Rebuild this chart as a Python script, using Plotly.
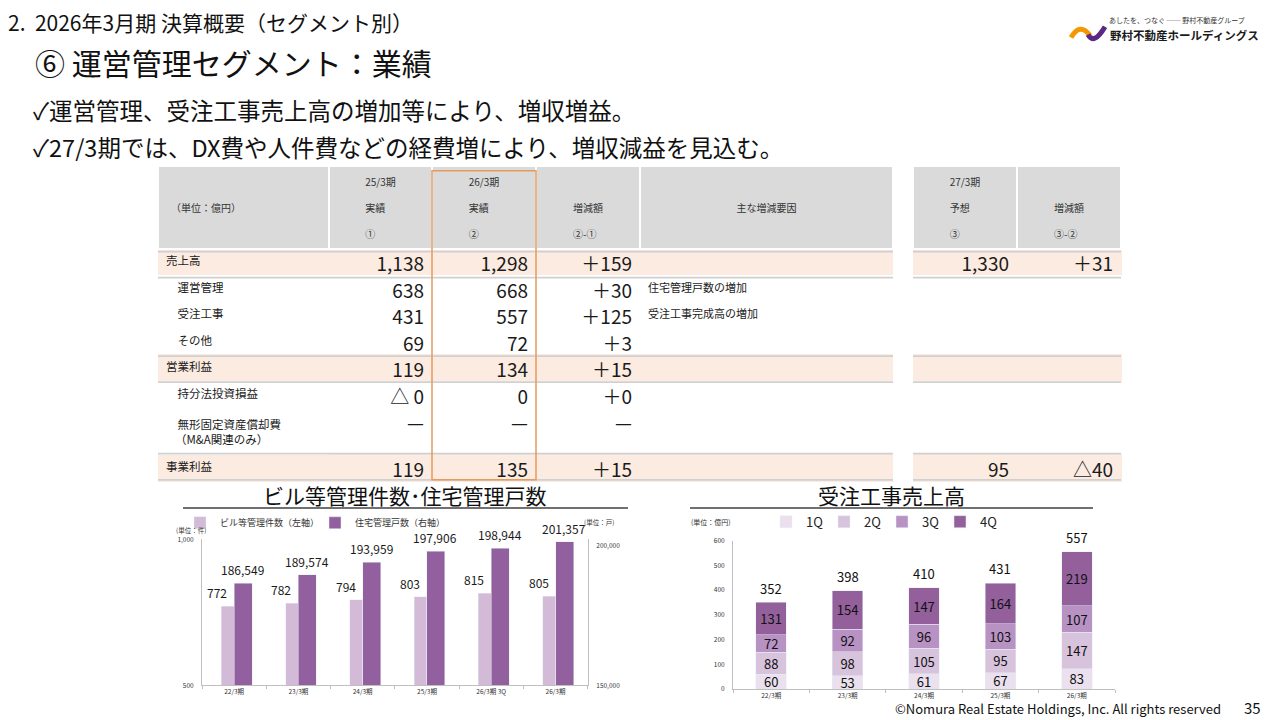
import plotly.graph_objects as go

# ---------------- data ----------------
bldg_years = ["22/3期", "23/3期", "24/3期", "25/3期", "26/3期 3Q", "26/3期"]
bldg_counts = [772, 782, 794, 803, 815, 805]
housing_units = [186549, 189574, 193959, 197906, 198944, 201357]

order_years = ["22/3期", "23/3期", "24/3期", "25/3期", "26/3期"]
q1 = [60, 53, 61, 67, 83]
q2 = [88, 98, 105, 95, 147]
q3 = [72, 92, 96, 103, 107]
q4 = [131, 154, 147, 164, 219]
order_totals = [352, 398, 410, 431, 557]

row_labels = ["売上高", "運営管理", "受注工事", "その他", "営業利益",
              "持分法投資損益", "無形固定資産償却費<br>（M&A関連のみ）", "事業利益"]
row_indent = [0, 1, 1, 1, 0, 1, 1, 0]
fy25 = ["1,138", "638", "431", "69", "119", "△ 0", "—", "119"]
fy26 = ["1,298", "668", "557", "72", "134", "0", "—", "135"]
diff_26_25 = ["＋159", "＋30", "＋125", "＋3", "＋15", "＋0", "—", "＋15"]
reasons = ["", "住宅管理戸数の増加", "受注工事完成高の増加", "", "", "", "", ""]
fy27_plan = ["1,330", "", "", "", "", "", "", "95"]
diff_27_26 = ["＋31", "", "", "", "", "", "", "△40"]
header_lines = [["", "（単位：億円）", ""],
                ["25/3期", "実績", "①"],
                ["26/3期", "実績", "②"],
                ["", "増減額", "②-①"],
                ["", "主な増減要因", ""],
                None,
                ["27/3期", "予想", "③"],
                ["", "増減額", "③-②"]]
highlight_rows = [0, 4, 7]

# ---------------- helpers / style ----------------
W, H = 1280, 720
FONT = "Noto Sans CJK JP"
BLANK = "\u2800"      # blank glyph that keeps an (otherwise empty) text line / indent in place


def X(px):
    return px / W


def Y(py):
    return 1 - py / H


def header_cell(lines, col):
    if lines is None:
        return ""
    out = []
    for i, s in enumerate(lines):
        if col == 0 and s:
            s = "\u200b\u3000" + s
        out.append(s if s else BLANK)
        if i < len(lines) - 1:
            out.append(BLANK)
    return "<br>".join(out)


def label_cell(s, ind):
    if not ind:
        return s
    parts = s.split("<br>")
    return "<br>".join(("\u3000" if i == 0 else BLANK) + p for i, p in enumerate(parts))


LIGHT = "#D3BAD7"
DARK = "#93609F"
QCOL = ["#EBE1EE", "#D8C3DD", "#B992C4", "#93609C"]
BEIGE = "#FBEBE0"
HEAD = "#DADADA"
RULE = "#D0D0D0"

fig = go.Figure()

# ---------------- table ----------------
colw = [171, 103, 104, 104, 253, 20, 104, 104]
ncol = len(colw)
nrow = len(row_labels)
labels_fmt = [label_cell(s, i) for s, i in zip(row_labels, row_indent)]
cols = [labels_fmt, fy25, fy26, diff_26_25, reasons, [""] * nrow, fy27_plan, diff_27_26]
fills, lines = [], []
for c in range(ncol):
    fc, lc = [], []
    for r in range(nrow):
        if c != 5 and r in highlight_rows:
            fc.append(BEIGE)
            lc.append(BEIGE)
        else:
            fc.append("white")
            lc.append("rgba(0,0,0,0)")
    fills.append(fc)
    lines.append(lc)

tbl_left, tbl_top = 158, 167
tbl_right = tbl_left + sum(colw)
head_h, row_h, tall_row_h = 82, 26.5, 46
row_heights = [tall_row_h if "<br>" in s else row_h for s in row_labels]
fig.add_trace(go.Table(
    domain=dict(x=[X(tbl_left), X(tbl_right)], y=[Y(496), Y(tbl_top - 5)]),
    columnwidth=colw,
    header=dict(values=[header_cell(h, i) for i, h in enumerate(header_lines)],
                fill_color=[HEAD if c != 5 else "white" for c in range(ncol)],
                line=dict(color="white", width=2),
                align=["left"] + ["center"] * (ncol - 1),
                font=dict(family=FONT, size=10, color="#333333"),
                height=head_h),
    cells=dict(values=cols,
               fill_color=fills,
               line=dict(color=lines, width=1),
               align=["left", "right", "right", "right", "left", "left", "right", "right"],
               font=dict(family=FONT, size=[11.5, 19, 19, 19, 11, 11, 19, 19], color="#1a1a1a"),
               height=row_h),
))

# ---------------- left chart: dual axis bars ----------------
fig.add_trace(go.Bar(
    x=bldg_years, y=housing_units, name="住宅管理戸数（右軸）",
    marker_color=DARK, width=0.28, offset=0,
    xaxis="x", yaxis="y2", legend="legend",
))
fig.add_trace(go.Bar(
    x=bldg_years, y=bldg_counts, name="ビル等管理件数（左軸）",
    marker_color=LIGHT, width=0.2, offset=-0.2,
    xaxis="x", yaxis="y", legend="legend",
))

# ---------------- right chart: stacked bars ----------------
for name, vals, col in zip(["1Q", "2Q", "3Q", "4Q"], [q1, q2, q3, q4], QCOL):
    fig.add_trace(go.Bar(
        x=order_years, y=vals, name=name, marker_color=col, width=0.4,
        xaxis="x2", yaxis="y3", legend="legend2",
        text=vals, textposition="inside", insidetextanchor="middle",
        constraintext="none", textangle=0,
        insidetextfont=dict(family=FONT, size=13, color="#111111"),
    ))

axis_common = dict(showgrid=False, zeroline=False, showline=True, linecolor="#BFBFBF",
                   linewidth=1, tickfont=dict(family=FONT, size=6.5, color="#333333"))

L_X0, L_X1 = 202, 588
fig.update_layout(
    width=W, height=H,
    margin=dict(l=0, r=0, t=0, b=0),
    paper_bgcolor="white", plot_bgcolor="white",
    font=dict(family=FONT, color="#111111"),
    barmode="stack",
    xaxis=dict(domain=[X(L_X0), X(L_X1)], anchor="y", ticks="outside", tickson="boundaries",
               ticklen=3, tickcolor="#BFBFBF", **axis_common),
    yaxis=dict(domain=[Y(689), Y(541)], range=[500, 1000], tickvals=[500, 1000],
               ticktext=["500", "1,000"], anchor="x", ticks="", ticklabelstandoff=6, **axis_common),
    yaxis2=dict(overlaying="y", side="right", anchor="x", range=[150000, 202113],
                tickvals=[150000, 200000], ticktext=["150,000", "200,000"], ticks="",
                ticklabelstandoff=6, **axis_common),
    xaxis2=dict(domain=[X(733), X(1115)], anchor="y3", ticks="outside", tickson="boundaries",
                ticklen=3, tickcolor="#BFBFBF", **axis_common),
    yaxis3=dict(domain=[Y(692.7), Y(542.3)], range=[0, 600], dtick=100, anchor="x2",
                ticks="", ticklabelstandoff=6, **axis_common),
    legend=dict(orientation="h", x=X(180), y=Y(524), xanchor="left", yanchor="middle",
                font=dict(family=FONT, size=9, color="#333333"), bgcolor="rgba(0,0,0,0)",
                traceorder="reversed", entrywidth=90),
    legend2=dict(orientation="h", x=X(766), y=Y(523), xanchor="left", yanchor="middle",
                 font=dict(family=FONT, size=13, color="#222222"), bgcolor="rgba(0,0,0,0)",
                 traceorder="normal", entrywidth=13),
)

# ---------------- texts ----------------
ann = []

# value labels placed in data coordinates above each bar
cat_px = (L_X1 - L_X0) / len(bldg_years)
for yr, v in zip(bldg_years, bldg_counts):
    ann.append(dict(x=yr, y=v, xref="x", yref="y", text=f"{v:,}", showarrow=False,
                    xshift=-0.264 * cat_px, yshift=13.5, yanchor="middle",
                    font=dict(family=FONT, size=12, color="#1a1a1a")))
for yr, v in zip(bldg_years, housing_units):
    ann.append(dict(x=yr, y=v, xref="x", yref="y2", text=f"{v:,}", showarrow=False,
                    xshift=0.132 * cat_px, yshift=13.5, yanchor="middle",
                    font=dict(family=FONT, size=12, color="#1a1a1a")))
for yr, v in zip(order_years, order_totals):
    ann.append(dict(x=yr, y=v, xref="x2", yref="y3", text=f"{v:,}", showarrow=False,
                    yshift=14, yanchor="middle",
                    font=dict(family=FONT, size=13, color="#111111")))


def text(x, y, s, size, anchor="left", color="#111111", bold=False):
    if bold:
        s = "<b>" + s + "</b>"
    ann.append(dict(x=X(x), y=Y(y), xref="paper", yref="paper", text=s, showarrow=False,
                    xanchor=anchor, yanchor="middle",
                    font=dict(family=FONT, size=size, color=color)))


text(6, 16, "2.  2026年3月期 決算概要（セグメント別）", 21)
text(33, 57, "⑥ 運営管理セグメント：業績", 30)
text(31, 105, "✓運営管理、受注工事売上高の増加等により、増収増益。", 23.5)
text(31, 143, "✓27/3期では、DX費や人件費などの経費増により、増収減益を見込む。", 23.5)
text(405, 496, "ビル等管理件数･住宅管理戸数", 21, anchor="center")
text(891, 496, "受注工事売上高", 21, anchor="center")
text(174, 531, "(単位：件)", 6.5, color="#333333")
text(582, 523, "(単位：戸)", 6.5, color="#333333")
text(689, 523, "(単位：億円)", 7, color="#333333")
text(1223, 712, "©Nomura Real Estate Holdings, Inc. All rights reserved", 13, anchor="right")
text(1263, 711, "35", 15, anchor="right")
text(1107, 14, "あしたを、つなぐ ── 野村不動産グループ", 7, color="#333333")
text(1108, 29, "野村不動産ホールディングス", 11.5, color="#1a1a1a", bold=True)
fig.update_layout(annotations=ann)

# ---------------- decorations ----------------
shapes = []
shapes.append(dict(type="line", xref="paper", yref="paper", x0=X(183), x1=X(628), y0=Y(509), y1=Y(509),
                   line=dict(color="#404040", width=1.5)))
shapes.append(dict(type="line", xref="paper", yref="paper", x0=X(690), x1=X(1093), y0=Y(509), y1=Y(509),
                   line=dict(color="#404040", width=1.5)))

# gray rules above / below the highlighted table rows
row_tops = [tbl_top + head_h + sum(row_heights[:r]) for r in range(nrow + 1)]
rule_ys = sorted({row_tops[r] for r in highlight_rows} | {row_tops[r + 1] for r in highlight_rows})
seg_main = (tbl_left, tbl_left + sum(colw[:5]))
seg_fc = (tbl_left + sum(colw[:6]), tbl_right)
for yy in rule_ys:
    for xa, xb in (seg_main, seg_fc):
        shapes.append(dict(type="line", xref="paper", yref="paper", x0=X(xa), x1=X(xb),
                           y0=Y(yy), y1=Y(yy), layer="above",
                           line=dict(color=RULE, width=1.8)))

# orange highlight around current-year column
hx0 = tbl_left + sum(colw[:2])
hx1 = tbl_left + sum(colw[:3])
tbl_bottom = row_tops[-1]
shapes.append(dict(type="rect", xref="paper", yref="paper", x0=X(hx0), x1=X(hx1),
                   y0=Y(tbl_bottom), y1=Y(tbl_top),
                   line=dict(color="#E69A5C", width=1.5), fillcolor="rgba(0,0,0,0)"))
# logo mark
shapes.append(dict(type="path", xref="paper", yref="paper",
                   path=f"M {X(1071):.5f},{Y(32):.5f} Q {X(1080):.5f},{Y(16):.5f} {X(1090):.5f},{Y(30):.5f}",
                   line=dict(color="#F39800", width=5)))
shapes.append(dict(type="path", xref="paper", yref="paper",
                   path=f"M {X(1088):.5f},{Y(29):.5f} Q {X(1094):.5f},{Y(40):.5f} {X(1105):.5f},{Y(21):.5f}",
                   line=dict(color="#5A2A82", width=5)))
fig.update_layout(shapes=shapes)

fig.write_html("out.html", config={"displayModeBar": False},
               post_script="document.body.style.margin='0';document.body.style.overflow='hidden';")
